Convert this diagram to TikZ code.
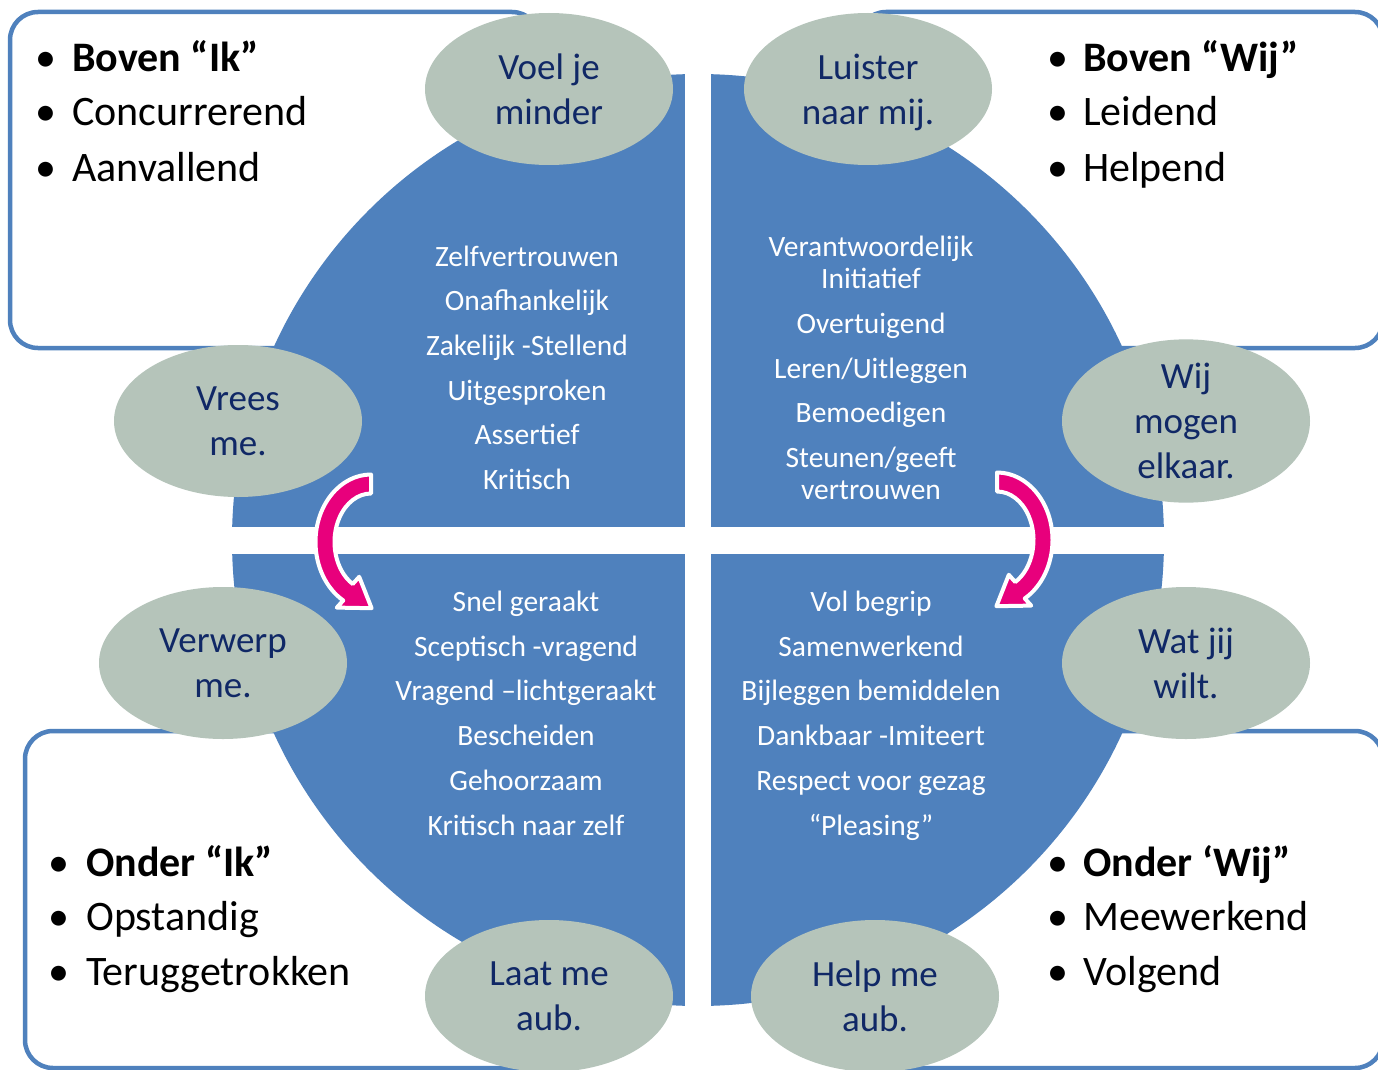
\documentclass[tikz,border=0pt]{standalone}
\usepackage{fontspec}
\setmainfont{Carlito}
\usetikzlibrary{shapes.geometric}
\definecolor{qblue}{RGB}{79,129,189}
\definecolor{bubfill}{RGB}{181,196,186}
\definecolor{bubtext}{RGB}{16,40,102}
\definecolor{arrmag}{RGB}{232,0,124}
\begin{document}
\begin{tikzpicture}[x=1pt,y=-1pt,
  frame/.style={draw=qblue, line width=4.5pt, rounded corners=28pt},
  bub/.style={ellipse, fill=bubfill, minimum width=248pt, minimum height=152pt, inner sep=0pt, align=center, text=bubtext, text depth=0pt, font=\fontsize{37}{45}\selectfont},
  inner/.style={anchor=base, text=white, inner sep=0pt, font=\fontsize{29.5}{34}\selectfont},
  itemtext/.style={anchor=base west, inner sep=0pt, font=\fontsize{42}{50}\selectfont},
  arr/.style={fill=arrmag, draw=white, line width=4pt, line join=round}]
\useasboundingbox (0,0) rectangle (1378,1070);
\fill[white] (0,0) rectangle (1378,1070);
% frames
\draw[frame] (10,12) rectangle (540,348);
\draw[frame] (858,12) rectangle (1383,348);
\draw[frame] (25,731) rectangle (566,1068);
\draw[frame] (830,731) rectangle (1383,1068);
% disc
\fill[qblue] (698,540) circle[radius=466];
\fill[white] (685,70) rectangle (711,1010);
\fill[white] (228,527) rectangle (1168,554);
% arrows
\path[arr] (371,474.5) arc[start angle=270, end angle=120, x radius=55.5, y radius=67.5]
  -- (336.8,607.6) -- (371.6,608.2) -- (359.2,576.8) -- (352.75,584.0)
  arc[start angle=120, end angle=270, x radius=36.5, y radius=48.5] -- cycle;
\path[arr] (997,472.5) arc[start angle=-90, end angle=60, x radius=55.5, y radius=67.5]
  -- (1031.2,605.6) -- (996.4,606.2) -- (1008.8,574.8) -- (1015.25,582)
  arc[start angle=60, end angle=-90, x radius=36.5, y radius=48.5] -- cycle;
% bubbles
\node[bub] (voel) at (549,89) {Voel je\\minder};
\node[bub] (luister) at (868,89) {Luister\\naar mij.};
\node[bub] (vrees) at (238,421) {Vrees\\me.};
\node[bub] (wij) at (1186,421) {Wij\\mogen\\elkaar.};
\node[bub] (verwerp) at (223,663) {Verwerp\\me.};
\node[bub] (wat) at (1186,663) {Wat jij\\wilt.};
\node[bub] (laat) at (549,996) {Laat me\\aub.};
\node[bub] (help) at (875,996) {Help me\\aub.};
% inner texts
\foreach \yy/\t [count=\i] in {256/Zelfvertrouwen, 300/Onafhankelijk, 345/{Zakelijk -Stellend}, 390/Uitgesproken, 434/Assertief, 479/Kritisch}
  \node[inner] (tl\i) at (527,\yy+10) {\t};
\foreach \yy/\t [count=\i] in {246/Verantwoordelijk, 278/Initiatief, 323/Overtuigend, 368/{Leren/Uitleggen}, 412/Bemoedigen, 457/{Steunen/geeft}, 489/vertrouwen}
  \node[inner] (tr\i) at (871,\yy+10) {\t};
\foreach \yy/\t [count=\i] in {601/{Snel geraakt}, 646/{Sceptisch -vragend}, 690/{Vragend –lichtgeraakt}, 735/Bescheiden, 780/Gehoorzaam, 825/{Kritisch naar zelf}}
  \node[inner] (bl\i) at (526,\yy+10) {\t};
\foreach \yy/\t [count=\i] in {601/{Vol begrip}, 646/Samenwerkend, 690/{Bijleggen bemiddelen}, 735/{Dankbaar -Imiteert}, 780/{Respect voor gezag}, 825/{“Pleasing”}}
  \node[inner] (br\i) at (871,\yy+10) {\t};
% bullet lists
\foreach \yy/\t [count=\i] in {72/{\bfseries Boven “Ik”}, 126/Concurrerend, 181/Aanvallend}
  {\node[itemtext] (tlb\i) at (35,\yy) {•};
   \node[itemtext] (tlt\i) at (72,\yy) {\t};}
\foreach \yy/\t [count=\i] in {72/{\bfseries Boven “Wij”}, 126/Leidend, 181/Helpend}
  {\node[itemtext] (trb\i) at (1047,\yy) {•};
   \node[itemtext] (trt\i) at (1083,\yy) {\t};}
\foreach \yy/\t [count=\i] in {876/{\bfseries Onder “Ik”}, 930/Opstandig, 985/Teruggetrokken}
  {\node[itemtext] (blb\i) at (48,\yy) {•};
   \node[itemtext] (blt\i) at (86,\yy) {\t};}
\foreach \yy/\t [count=\i] in {876/{\bfseries Onder ‘Wij”}, 930/Meewerkend, 985/Volgend}
  {\node[itemtext] (brb\i) at (1047,\yy) {•};
   \node[itemtext] (brt\i) at (1083,\yy) {\t};}
\end{tikzpicture}
\end{document}
